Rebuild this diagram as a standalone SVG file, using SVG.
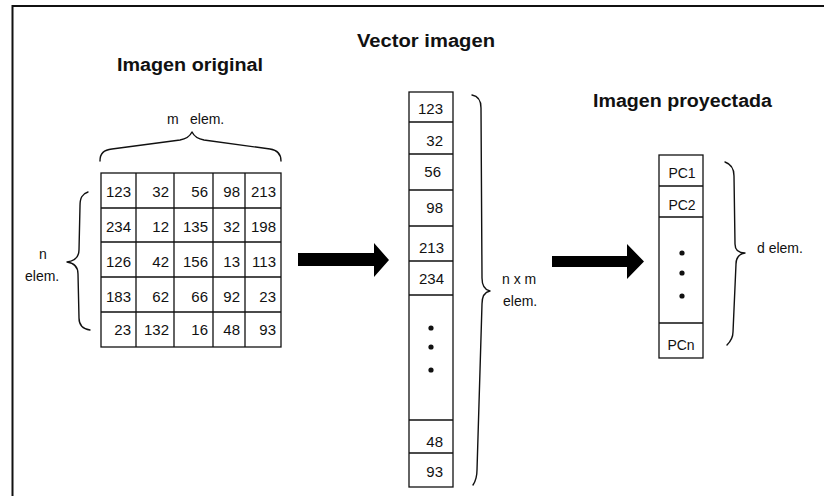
<svg xmlns="http://www.w3.org/2000/svg" width="824" height="496" viewBox="0 0 824 496">
<style>
.title{font-family:"Liberation Sans",Arial,sans-serif;font-weight:bold;font-size:18px;fill:#111}
.num{font-family:"Liberation Sans",Arial,sans-serif;font-size:15px;fill:#111;text-anchor:end}
.pc{font-family:"Liberation Sans",Arial,sans-serif;font-size:14px;fill:#111;text-anchor:middle}
.lbl{font-family:"Liberation Sans",Arial,sans-serif;font-size:14px;fill:#111}
.cell{fill:none;stroke:#111;stroke-width:1.3}
.brace{fill:none;stroke:#111;stroke-width:1.4;stroke-linejoin:round;stroke-linecap:round}
.dot{fill:#111}
.arrow{fill:#000}
</style>
<rect x="0" y="0" width="824" height="496" fill="#fff"/>
<path d="M12.5,496 V6 H824" fill="none" stroke="#111" stroke-width="2"/>

<text class="title" x="357" y="47" textLength="138" lengthAdjust="spacingAndGlyphs">Vector imagen</text>
<text class="title" x="117" y="71" textLength="146" lengthAdjust="spacingAndGlyphs">Imagen original</text>
<text class="title" x="593" y="107" textLength="179" lengthAdjust="spacingAndGlyphs">Imagen proyectada</text>

<g id="matrix">
<rect class="cell" x="101" y="173" width="180" height="174"/>
<path class="cell" d="M136,173V347M174,173V347M213,173V347M245,173V347M101,208H281M101,242H281M101,277H281M101,312H281"/>
<text class="num" x="131" y="197">123</text><text class="num" x="169" y="197">32</text><text class="num" x="208" y="197">56</text><text class="num" x="240" y="197">98</text><text class="num" x="276" y="197">213</text>
<text class="num" x="131" y="232">234</text><text class="num" x="169" y="232">12</text><text class="num" x="208" y="232">135</text><text class="num" x="240" y="232">32</text><text class="num" x="276" y="232">198</text>
<text class="num" x="131" y="266.5">126</text><text class="num" x="169" y="266.5">42</text><text class="num" x="208" y="266.5">156</text><text class="num" x="240" y="266.5">13</text><text class="num" x="276" y="266.5">113</text>
<text class="num" x="131" y="301.5">183</text><text class="num" x="169" y="301.5">62</text><text class="num" x="208" y="301.5">66</text><text class="num" x="240" y="301.5">92</text><text class="num" x="276" y="301.5">23</text>
<text class="num" x="131" y="334.5">23</text><text class="num" x="169" y="334.5">132</text><text class="num" x="208" y="334.5">16</text><text class="num" x="240" y="334.5">48</text><text class="num" x="276" y="334.5">93</text>
</g>

<g id="brace-m">
<path class="brace" d="M100,161 C100,153 104,150 112,149 L180,140 C186,139 190,136 192,132 C194,136 198,139 204,140 L270,149 C277,150 281,153 281,161"/>
<text class="lbl" x="167" y="124">m</text>
<text class="lbl" x="190" y="124">elem.</text>
</g>

<g id="brace-n">
<path class="brace" d="M88,192 C82,194 80,198 80,206 L79,250 C79,258 74,261 67,262 C74,263 78,266 78,274 L79,318 C79,325 83,329 90,330"/>
<text class="lbl" x="39" y="259">n</text>
<text class="lbl" x="25" y="281">elem.</text>
</g>

<g id="vector">
<rect class="cell" x="409" y="92" width="44" height="395"/>
<path class="cell" d="M409,122H453M409,154H453M409,190H453M409,226H453M409,261H453M409,295H453M409,420H453M409,453H453"/>
<text class="num" x="443" y="114">123</text>
<text class="num" x="443" y="146">32</text>
<text class="num" x="441" y="177">56</text>
<text class="num" x="443" y="213">98</text>
<text class="num" x="444" y="253">213</text>
<text class="num" x="444" y="284">234</text>
<circle class="dot" cx="431" cy="328" r="2.6"/>
<circle class="dot" cx="431" cy="347" r="2.6"/>
<circle class="dot" cx="431" cy="370" r="2.6"/>
<text class="num" x="443" y="447">48</text>
<text class="num" x="443" y="477">93</text>
</g>

<g id="brace-nm">
<path class="brace" d="M472,95 C478,96 481,100 481,108 L482,278 C482,286 485,290 490,291 C485,292 482,296 482,304 L477,470 C477,478 475,482 473,485"/>
<text class="lbl" x="502" y="284">n x m</text>
<text class="lbl" x="503" y="306">elem.</text>
</g>

<g id="projected">
<rect class="cell" x="659" y="155" width="44" height="203"/>
<path class="cell" d="M659,186H703M659,217H703M659,323H703"/>
<text class="pc" x="682" y="178">PC1</text>
<text class="pc" x="682" y="210">PC2</text>
<circle class="dot" cx="682" cy="253" r="2.6"/>
<circle class="dot" cx="682" cy="273" r="2.6"/>
<circle class="dot" cx="682" cy="296" r="2.6"/>
<text class="pc" x="681" y="350">PCn</text>
</g>

<g id="brace-d">
<path class="brace" d="M725,162 C731,164 734,168 734,176 L735,244 C735,250 739,253 745,253 C739,254 736,257 736,264 L733,332 C733,338 730,342 727,345"/>
<text class="lbl" x="757" y="253">d elem.</text>
</g>

<g id="connectors">
<polygon class="arrow" points="298,253 374,253 374,243 389,260 374,277 374,266 298,266"/>
<polygon class="arrow" points="552,256 627,256 627,244 644,261.5 627,279 627,267 552,267"/>
</g>
</svg>
